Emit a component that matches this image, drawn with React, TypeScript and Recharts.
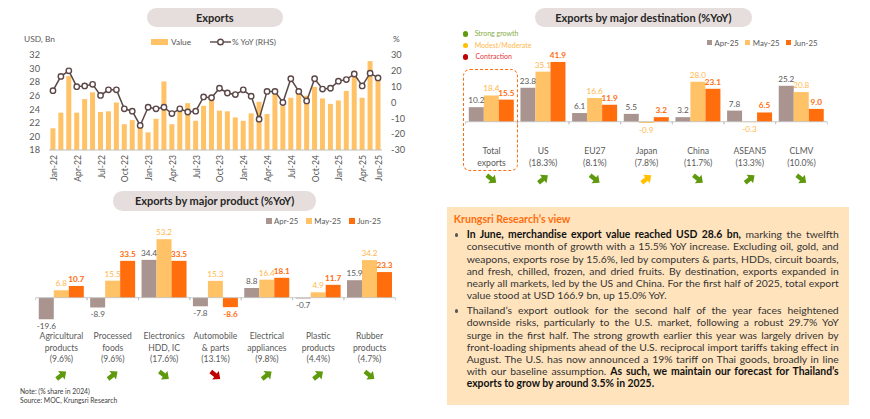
import { Bar, BarChart, ComposedChart, LabelList, Legend, Line, ReferenceLine, XAxis, YAxis } from 'recharts'

const FONT = 'Lato, sans-serif'
const TEXT = '#595959'
const BROWN = '#5b4747'
const APR = '#a99490'
const MAY = '#ffc266'
const JUN = '#ff6d0d'
const GREEN = '#5f9a0e'
const YELLOW = '#ffc000'
const RED = '#c00000'

// monthly exports
const months = [
  'Jan-22', 'Feb-22', 'Mar-22', 'Apr-22', 'May-22', 'Jun-22', 'Jul-22', 'Aug-22', 'Sep-22', 'Oct-22', 'Nov-22', 'Dec-22',
  'Jan-23', 'Feb-23', 'Mar-23', 'Apr-23', 'May-23', 'Jun-23', 'Jul-23', 'Aug-23', 'Sep-23', 'Oct-23', 'Nov-23', 'Dec-23',
  'Jan-24', 'Feb-24', 'Mar-24', 'Apr-24', 'May-24', 'Jun-24', 'Jul-24', 'Aug-24', 'Sep-24', 'Oct-24', 'Nov-24', 'Dec-24',
  'Jan-25', 'Feb-25', 'Mar-25', 'Apr-25', 'May-25', 'Jun-25',
]
const exportValue = [
  21.2, 23.5, 28.9, 23.5, 25.5, 26.5, 23.6, 23.7, 25.0, 21.8, 22.4, 21.5,
  20.6, 22.6, 28.1, 21.8, 23.7, 24.9, 22.3, 24.5, 25.3, 23.8, 23.7, 22.8,
  22.3, 23.4, 25.1, 23.3, 26.2, 24.5, 25.7, 26.3, 26.0, 27.3, 25.6, 24.8,
  25.3, 26.7, 29.0, 25.7, 31.1, 28.6,
]
const exportYoy = [
  7.5, 16.5, 20, 10, 10.5, 11.5, 4.5, 8, 8, -4, -5.5, -14.5,
  -3, -4, -3, -7, -4, -6, -5.5, 3.5, 3, 9, 6, 5,
  8, 4, -10.5, 7, 7, 0, 15, 7, 1, 15, 8.5, 9,
  13.5, 14.5, 18, 10.5, 18.5, 15.5,
]
const monthTicks = [
  'Jan-22', 'Apr-22', 'Jul-22', 'Oct-22', 'Jan-23', 'Apr-23', 'Jul-23', 'Oct-23',
  'Jan-24', 'Apr-24', 'Jul-24', 'Oct-24', 'Jan-25', 'Apr-25', 'Jun-25',
]
const valueTicks = [18, 20, 22, 24, 26, 28, 30, 32]
const yoyTicks = [-30, -20, -10, 0, 10, 20, 30]

// by product
const productNames = [
  ['Agricultural', 'products', '(9.6%)'],
  ['Processed', 'foods', '(9.6%)'],
  ['Electronics', 'HDD, IC', '(17.6%)'],
  ['Automobile', '& parts', '(13.1%)'],
  ['Electrical', 'appliances', '(9.8%)'],
  ['Plastic', 'products', '(4.4%)'],
  ['Rubber', 'products', '(4.7%)'],
]
const productApr = [-19.6, -8.9, 34.4, -7.8, 8.8, -0.7, 15.9]
const productMay = [6.8, 15.5, 53.2, 15.3, 16.4, 4.9, 34.2]
const productJun = [10.7, 33.5, 33.5, -8.6, 18.1, 11.7, 23.3]
const productArrows = ['upG', 'upG', 'downG', 'downR', 'upG', 'upG', 'downG']

// by destination
const destNames = [
  ['Total', 'exports'],
  ['US', '(18.3%)'],
  ['EU27', '(8.1%)'],
  ['Japan', '(7.8%)'],
  ['China', '(11.7%)'],
  ['ASEAN5', '(13.3%)'],
  ['CLMV', '(10.0%)'],
]
const destApr = [10.2, 23.8, 6.1, 5.5, 3.2, 7.8, 25.2]
const destMay = [18.4, 35.1, 16.6, -0.9, 28.0, -0.3, 20.8]
const destJun = [15.5, 41.9, 11.9, 3.2, 23.1, 6.5, 9.0]
const destArrows = ['downG', 'upG', 'downG', 'upY', 'downG', 'upG', 'downG']

const exportData = months.map((m, i) => ({ month: m, value: exportValue[i], yoy: exportYoy[i] }))
const productData = productNames.map((n, i) => ({
  name: n.join('|'), apr: productApr[i], may: productMay[i], jun: productJun[i], arrow: productArrows[i],
}))
const destData = destNames.map((n, i) => ({
  name: n.join('|'), apr: destApr[i], may: destMay[i], jun: destJun[i], arrow: destArrows[i],
}))

const viewPara1 = [
  [['In June, merchandise export value reached USD 28.6 bn,', true], [' marking the twelfth', false]],
  [['consecutive month of growth with a 15.5% YoY increase. Excluding oil, gold, and', false]],
  [['weapons, exports rose by 15.6%, led by computers & parts, HDDs, circuit boards,', false]],
  [['and fresh, chilled, frozen, and dried fruits. By destination, exports expanded in', false]],
  [['nearly all markets, led by the US and China. For the first half of 2025, total export', false]],
  [['value stood at USD 166.9 bn, up 15.0% YoY.', false]],
]
const viewPara2 = [
  [['Thailand’s export outlook for the second half of the year faces heightened', false]],
  [['downside risks, particularly to the U.S. market, following a robust 29.7% YoY', false]],
  [['surge in the first half. The strong growth earlier this year was largely driven by', false]],
  [['front-loading shipments ahead of the U.S. reciprocal import tariffs taking effect in', false]],
  [['August. The U.S. has now announced a 19% tariff on Thai goods, broadly in line', false]],
  [['with our baseline assumption. ', false], ['As such, we maintain our forecast for Thailand’s', true]],
  [['exports to grow by around 3.5% in 2025.', true]],
]

const arrowColor = { upG: GREEN, downG: GREEN, upY: YELLOW, downR: RED }

// block arrow pointing right, turned up or down
const BlockArrow = ({ x, y, kind }) => (
  <polygon
    transform={`translate(${x},${y}) rotate(${kind.startsWith('up') ? -38 : 38})`}
    points="-6,-2.2 0,-2.2 0,-5.4 6,0 0,5.4 0,2.2 -6,2.2"
    fill={arrowColor[kind]}
  />
)

// category label under the plot, plus the small axis ticks on the zero line
const CategoryTick = ({ x, y, payload, data, firstY, lineGap, arrowY, zeroUp, band }) => {
  const lines = payload.value.split('|')
  const row = data.find((d) => d.name === payload.value)
  return (
    <g>
      <line x1={x - band / 2} x2={x - band / 2} y1={y - zeroUp} y2={y - zeroUp + 2.5} stroke="#bfbfbf" strokeWidth={0.8} />
      <line x1={x + band / 2} x2={x + band / 2} y1={y - zeroUp} y2={y - zeroUp + 2.5} stroke="#bfbfbf" strokeWidth={0.8} />
      {lines.map((l, i) => (
        <text key={i} x={x} y={y + firstY + i * lineGap} textAnchor="middle" fontSize={8.6} fontFamily={FONT} fill={TEXT}>
          {l}
        </text>
      ))}
      <BlockArrow x={x} y={y + firstY + arrowY} kind={row.arrow} />
    </g>
  )
}

const MonthTick = ({ x, y, payload }) => (
  <text transform={`translate(${x + 4},${y}) rotate(-90)`} textAnchor="end" fontSize={8.6} fontFamily={FONT} fill={TEXT}>
    {payload.value}
  </text>
)

const SwatchLegend = ({ payload, gap }) => (
  <div style={{ display: 'flex', gap, fontFamily: FONT, fontSize: 7.8, color: TEXT, whiteSpace: 'nowrap' }}>
    {payload.map((p) => (
      <span key={p.value} style={{ display: 'flex', alignItems: 'center', gap: 2.5 }}>
        <span style={{ width: 5.5, height: 5.5, background: p.color, display: 'inline-block' }} />
        {p.value}
      </span>
    ))}
  </div>
)

const ExportsLegend = () => (
  <div style={{ display: 'flex', alignItems: 'center', fontFamily: FONT, fontSize: 8.3, color: TEXT, whiteSpace: 'nowrap' }}>
    <span style={{ width: 17, height: 5.5, background: MAY, marginRight: 3 }} />
    <span style={{ marginRight: 19 }}>Value</span>
    <svg width={21} height={10}>
      <line x1={0} x2={21} y1={5} y2={5} stroke={BROWN} strokeWidth={1.4} />
      <circle cx={10.5} cy={5} r={2.8} fill="#fff" stroke={BROWN} strokeWidth={1.4} />
    </svg>
    <span style={{ marginLeft: 1 }}>% YoY (RHS)</span>
  </div>
)

const Pill = ({ left, top, width, height, children }) => (
  <div
    style={{
      position: 'absolute', left, top, width, height, borderRadius: height / 2, background: '#e6dedc',
      display: 'flex', alignItems: 'center', justifyContent: 'center',
      fontFamily: FONT, fontWeight: 700, fontSize: 11, color: '#262626',
    }}
  >
    {children}
  </div>
)

const Abs = ({ left, top, color = TEXT, size = 8.4, weight = 400, children }) => (
  <div
    style={{
      position: 'absolute', left, top, color, fontSize: size, fontWeight: weight, fontFamily: FONT,
      lineHeight: 1, whiteSpace: 'nowrap',
    }}
  >
    {children}
  </div>
)

const GroupedBars = ({ data, width, height, margin, xHeight, domain, firstY, lineGap, arrowY, legendStyle, legendGap, band }) => {
  const plotH = height - margin.top - xHeight
  const zeroUp = (plotH * (0 - domain[0])) / (domain[1] - domain[0])
  const label = { fontSize: 8.2, fontFamily: FONT }
  return (
    <BarChart data={data} width={width} height={height} margin={margin} barGap={0} barCategoryGap="6%">
      <XAxis
        dataKey="name"
        interval={0}
        axisLine={false}
        tickLine={false}
        tickSize={0}
        tickMargin={0}
        height={xHeight}
        tick={(p) => <CategoryTick {...p} data={data} firstY={firstY} lineGap={lineGap} arrowY={arrowY} zeroUp={zeroUp} band={band} />}
      />
      <YAxis hide domain={domain} />
      <ReferenceLine y={0} stroke="#bfbfbf" strokeWidth={0.8} />
      <Legend content={(p) => <SwatchLegend {...p} gap={legendGap} />} itemSorter={null} layout="horizontal" align="center" verticalAlign="middle" wrapperStyle={legendStyle} />
      <Bar dataKey="apr" name="Apr-25" fill={APR} isAnimationActive={false}>
        <LabelList dataKey="apr" position="top" offset={4} fill={TEXT} style={label} formatter={(v) => v.toFixed(1)} />
      </Bar>
      <Bar dataKey="may" name="May-25" fill={MAY} isAnimationActive={false}>
        <LabelList dataKey="may" position="top" offset={4} fill="#ffb84d" style={label} formatter={(v) => v.toFixed(1)} />
      </Bar>
      <Bar dataKey="jun" name="Jun-25" fill={JUN} isAnimationActive={false}>
        <LabelList dataKey="jun" position="top" offset={4} fill={JUN} style={{ ...label, fontWeight: 700 }} formatter={(v) => v.toFixed(1)} />
      </Bar>
    </BarChart>
  )
}

const ViewLines = ({ lines, top }) => (
  <div style={{ position: 'absolute', left: 466.7, top, width: 372, fontFamily: FONT, fontSize: 10.4, lineHeight: '12.2px', color: '#262626' }}>
    {lines.map((line, i) => (
      <div key={i} style={{ textAlign: i === lines.length - 1 ? 'left' : 'justify', textAlignLast: i === lines.length - 1 ? 'left' : 'justify', whiteSpace: 'nowrap', height: 12.2 }}>
        {line.map(([t, b], j) => (
          <span key={j} style={{ fontWeight: b ? 700 : 400, color: b ? '#111' : '#333' }}>{t}</span>
        ))}
      </div>
    ))}
  </div>
)

const App = () => {
  return (
    <div style={{ position: 'absolute', left: 0, top: 0, width: 870, height: 419, overflow: 'hidden', background: '#fff' }}>
      <Pill left={147} top={8} width={135.5} height={18.7}>Exports</Pill>
      <Pill left={113.3} top={191.3} width={202.7} height={19.4}>Exports by major product (%YoY)</Pill>
      <Pill left={535} top={8} width={216.7} height={18.7}>Exports by major destination (%YoY)</Pill>

      <Abs left={24} top={34.5}>USD, Bn</Abs>
      <Abs left={393} top={34.5}>%</Abs>

      <div style={{ position: 'absolute', left: 0, top: 0 }}>
        <ComposedChart data={exportData} width={430} height={190} margin={{ top: 55, right: 0, bottom: 0, left: 0 }} barCategoryGap="18%">
          <XAxis dataKey="month" ticks={monthTicks} interval={0} tickLine={false} tickSize={0} tickMargin={5} axisLine={{ stroke: '#bfbfbf' }} height={40} tick={MonthTick} />
          <YAxis yAxisId="l" domain={[18, 32]} ticks={valueTicks} interval={0} width={49} axisLine={false} tickLine={false} tickSize={0} tickMargin={9} tick={{ fontSize: 9.2, fontFamily: FONT, fill: TEXT }} />
          <YAxis yAxisId="r" orientation="right" domain={[-30, 30]} ticks={yoyTicks} interval={0} width={48} axisLine={false} tickLine={false} tickSize={0} tickMargin={9} tick={{ fontSize: 9.2, fontFamily: FONT, fill: TEXT }} />
          <Legend content={ExportsLegend} layout="horizontal" align="center" verticalAlign="middle" wrapperStyle={{ left: 151, top: 37, width: 'auto', bottom: 'auto' }} />
          <Bar yAxisId="l" dataKey="value" name="Value" fill={MAY} isAnimationActive={false} />
          <Line
            yAxisId="r"
            dataKey="yoy"
            name="% YoY (RHS)"
            stroke={BROWN}
            strokeWidth={1.5}
            dot={{ r: 2.7, fill: '#fff', stroke: BROWN, strokeWidth: 1.4 }}
            isAnimationActive={false}
          />
        </ComposedChart>
      </div>

      <div style={{ position: 'absolute', left: 0, top: 185 }}>
        <GroupedBars
          data={productData}
          width={430}
          height={234}
          margin={{ top: 46.7, right: 34.7, bottom: 0, left: 35.7 }}
          xHeight={88.3}
          domain={[-30, 60]}
          firstY={8.5}
          lineGap={11.5}
          arrowY={36}
          band={51.4}
          legendGap={8}
          legendStyle={{ left: 266, top: 31, width: 'auto', bottom: 'auto' }}
        />
      </div>

      <div style={{ position: 'absolute', left: 440, top: 0 }}>
        <GroupedBars
          data={destData}
          width={430}
          height={200}
          margin={{ top: 50.4, right: 42.7, bottom: 0, left: 25.7 }}
          xHeight={64}
          domain={[-10, 50]}
          firstY={18}
          lineGap={11.5}
          arrowY={25}
          band={51.7}
          legendGap={6}
          legendStyle={{ left: 266.5, top: 37.5, width: 'auto', bottom: 'auto' }}
        />
      </div>

      <div style={{ position: 'absolute', left: 463.3, top: 68.7, width: 54.4, height: 102, boxSizing: 'border-box', border: `1px dashed ${JUN}`, borderRadius: 7 }} />

      <div style={{ position: 'absolute', left: 462.6, top: 31, width: 5.5, height: 5.5, borderRadius: '50%', background: GREEN }} />
      <div style={{ position: 'absolute', left: 462.6, top: 42.6, width: 5.5, height: 5.5, borderRadius: '50%', background: YELLOW }} />
      <div style={{ position: 'absolute', left: 462.6, top: 54, width: 5.5, height: 5.5, borderRadius: '50%', background: RED }} />
      <Abs left={474.7} top={30} size={7} color="#86ad45">Strong growth</Abs>
      <Abs left={474.7} top={41.5} size={7} color="#ffb84d">Modest/Moderate</Abs>
      <Abs left={475.5} top={53} size={7} color="#e5383b">Contraction</Abs>

      <Abs left={20} top={388} size={6.8} color="#404040">Note: (% share in 2024)</Abs>
      <Abs left={20} top={397} size={6.8} color="#404040">Source: MOC, Krungsri Research</Abs>

      <div style={{ position: 'absolute', left: 446.7, top: 206.7, width: 402.6, height: 198.3, background: '#ffe3bd' }} />
      <Abs left={453.7} top={213.5} size={10.6} weight={700} color={JUN}>Krungsri Research’s view</Abs>
      <div style={{ position: 'absolute', left: 454.5, top: 233, width: 3.5, height: 3.5, borderRadius: '50%', background: '#595959' }} />
      <div style={{ position: 'absolute', left: 454.5, top: 309, width: 3.5, height: 3.5, borderRadius: '50%', background: '#595959' }} />
      <ViewLines lines={viewPara1} top={228.2} />
      <ViewLines lines={viewPara2} top={304.2} />
    </div>
  )
}

export default App
